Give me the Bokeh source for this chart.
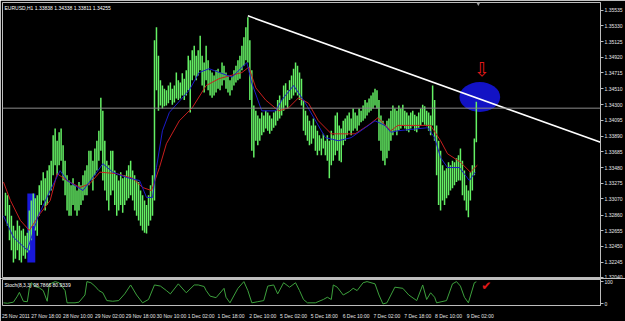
from bokeh.plotting import figure
from bokeh.layouts import column
from bokeh.models import Range1d, FixedTicker, Span, Label, PrintfTickFormatter
from bokeh.core.properties import value
from bokeh.embed import file_html
from bokeh.resources import INLINE

# ---------------- data (EURUSD H1) ----------------
highs = [
    1.3315, 1.3312, 1.3299, 1.3285, 1.3272, 1.3266, 1.3279, 1.3272, 1.3266, 1.3268,
    1.3259, 1.3263, 1.3292, 1.3305, 1.3314, 1.3308, 1.3312, 1.3325, 1.3331, 1.3342,
    1.3334, 1.3344, 1.3351, 1.3357, 1.3390, 1.3399, 1.3383, 1.3394, 1.3399, 1.3377,
    1.3357, 1.3338, 1.3331, 1.3325, 1.3334, 1.3325, 1.3318, 1.3329, 1.3325, 1.3338,
    1.3344, 1.3351, 1.3370, 1.3370, 1.3357, 1.3373, 1.3383, 1.3396, 1.3439, 1.3422,
    1.3383, 1.3357, 1.3351, 1.3370, 1.3370, 1.3344, 1.3338, 1.3331, 1.3342, 1.3334,
    1.3338, 1.3344, 1.3351, 1.3357, 1.3344, 1.3338, 1.3331, 1.3329, 1.3318, 1.3312,
    1.3305, 1.3299, 1.3312, 1.3325, 1.3338, 1.3514, 1.3531, 1.3494, 1.3462, 1.3455,
    1.3451, 1.3449, 1.3455, 1.3459, 1.3451, 1.3455, 1.3472, 1.3462, 1.3459, 1.3471,
    1.3464, 1.3475, 1.3494, 1.3488, 1.3501, 1.3507, 1.3494, 1.3501, 1.3520, 1.3494,
    1.3485, 1.3507, 1.3488, 1.3475, 1.3472, 1.3468, 1.3475, 1.3477, 1.3472, 1.3485,
    1.3481, 1.3472, 1.3468, 1.3462, 1.3467, 1.3475, 1.3481, 1.3488, 1.3494, 1.3507,
    1.3518, 1.3531, 1.3544, 1.3514, 1.3475, 1.3429, 1.3422, 1.3416, 1.3412, 1.3420,
    1.3416, 1.3422, 1.3420, 1.3416, 1.3412, 1.3420, 1.3422, 1.3436, 1.3442, 1.3436,
    1.3455, 1.3458, 1.3449, 1.3462, 1.3468, 1.3477, 1.3485, 1.3481, 1.3472, 1.3464,
    1.3436, 1.3422, 1.3416, 1.3409, 1.3403, 1.3412, 1.3403, 1.3396, 1.3390, 1.3386,
    1.3392, 1.3383, 1.3390, 1.3383, 1.3396, 1.3390, 1.3416, 1.3420, 1.3403, 1.3399,
    1.3409, 1.3412, 1.3416, 1.3420, 1.3412, 1.3425, 1.3420, 1.3416, 1.3425, 1.3422,
    1.3429, 1.3436, 1.3433, 1.3438, 1.3442, 1.3446, 1.3451, 1.3449, 1.3436, 1.3416,
    1.3409, 1.3403, 1.3409, 1.3412, 1.3422, 1.3429, 1.3425, 1.3422, 1.3429, 1.3425,
    1.3430, 1.3422, 1.3420, 1.3416, 1.3420, 1.3422, 1.3417, 1.3415, 1.3420, 1.3425,
    1.3430, 1.3428, 1.3422, 1.3420, 1.3416, 1.3455, 1.3436, 1.3403, 1.3383, 1.3370,
    1.3351, 1.3344, 1.3347, 1.3355, 1.3351, 1.3357, 1.3355, 1.3360, 1.3364, 1.3373,
    1.3357, 1.3344, 1.3325, 1.3318, 1.3342, 1.3351, 1.3386, 1.34338,
]
lows = [
    1.3285, 1.3272, 1.3253, 1.3240, 1.3224, 1.3229, 1.3240, 1.3227, 1.3224, 1.3233,
    1.3229, 1.3237, 1.3240, 1.3253, 1.3272, 1.3266, 1.3259, 1.3285, 1.3299, 1.3305,
    1.3292, 1.3299, 1.3312, 1.3318, 1.3338, 1.3351, 1.3338, 1.3351, 1.3357, 1.3331,
    1.3312, 1.3292, 1.3285, 1.3285, 1.3299, 1.3292, 1.3285, 1.3292, 1.3299, 1.3305,
    1.3312, 1.3312, 1.3325, 1.3331, 1.3318, 1.3338, 1.3344, 1.3357, 1.3370, 1.3331,
    1.3318, 1.3305, 1.3292, 1.3312, 1.3318, 1.3299, 1.3285, 1.3292, 1.3299, 1.3289,
    1.3299, 1.3305, 1.3308, 1.3312, 1.3305, 1.3292, 1.3285, 1.3279, 1.3272, 1.3266,
    1.3263, 1.3262, 1.3272, 1.3279, 1.3285, 1.3305, 1.3449, 1.3422, 1.3429, 1.3425,
    1.3428, 1.3429, 1.3432, 1.3436, 1.3430, 1.3433, 1.3438, 1.3436, 1.3438, 1.3442,
    1.3436, 1.3442, 1.3449, 1.3420, 1.3462, 1.3468, 1.3462, 1.3468, 1.3475, 1.3455,
    1.3446, 1.3462, 1.3449, 1.3442, 1.3439, 1.3442, 1.3446, 1.3451, 1.3449, 1.3455,
    1.3462, 1.3451, 1.3446, 1.3442, 1.3449, 1.3455, 1.3459, 1.3462, 1.3464, 1.3475,
    1.3481, 1.3488, 1.3485, 1.3436, 1.3370, 1.3361, 1.3383, 1.3377, 1.3383, 1.3390,
    1.3394, 1.3399, 1.3396, 1.3392, 1.3396, 1.3400, 1.3403, 1.3409, 1.3412, 1.3416,
    1.3422, 1.3429, 1.3425, 1.3436, 1.3438, 1.3442, 1.3446, 1.3442, 1.3436, 1.3429,
    1.3396, 1.3390, 1.3383, 1.3377, 1.3379, 1.3386, 1.3370, 1.3364, 1.3370, 1.3364,
    1.3373, 1.3364, 1.3357, 1.3334, 1.3351, 1.3357, 1.3364, 1.3370, 1.3357, 1.3355,
    1.3377, 1.3383, 1.3390, 1.3396, 1.3390, 1.3396, 1.3399, 1.3396, 1.3403, 1.3407,
    1.3409, 1.3412, 1.3416, 1.3420, 1.3422, 1.3425, 1.3429, 1.3425, 1.3383, 1.3370,
    1.3357, 1.3351, 1.3360, 1.3370, 1.3383, 1.3390, 1.3396, 1.3390, 1.3396, 1.3399,
    1.3403, 1.3399, 1.3396, 1.3394, 1.3399, 1.3402, 1.3396, 1.3394, 1.3400, 1.3403,
    1.3407, 1.3404, 1.3402, 1.3396, 1.3390, 1.3403, 1.3383, 1.3338, 1.3299, 1.3292,
    1.3305, 1.3299, 1.3308, 1.3312, 1.3318, 1.3321, 1.3325, 1.3329, 1.3331, 1.3331,
    1.3312, 1.3305, 1.3292, 1.3283, 1.3305, 1.3318, 1.3338, 1.33811,
]
bar_index = list(range(len(highs)))

# last bar header values
symbol = "EURUSD,H1"
last_ohlc = [1.33838, 1.34338, 1.33811, 1.34255]
last_close = last_ohlc[3]

# moving averages (bar, price)
ma_red_bars = [-1, 2.5, 7.5, 12, 17.5, 22.5, 26, 31, 37.5, 42.5, 47.5, 56, 64, 69, 73.5, 77.5, 81,
               87.5, 94, 101, 107.5, 119, 122.5, 126, 131, 137.5, 142.5, 147.5, 152.5, 157.5, 164,
               176, 182.5, 187.5, 194, 197.5, 214, 219, 222.5, 229, 234, 237.5]
ma_red_vals = [1.3329, 1.3305, 1.3279, 1.3266, 1.3288, 1.3305, 1.3340, 1.3331, 1.3322, 1.3327,
               1.3342, 1.3340, 1.3334, 1.3322, 1.3318, 1.3348, 1.3379, 1.3409, 1.3426, 1.3455,
               1.3464, 1.3472, 1.3479, 1.3452, 1.3436, 1.3422, 1.3426, 1.3439, 1.3432, 1.3409,
               1.3392, 1.3392, 1.3403, 1.3413, 1.3396, 1.3403, 1.3403, 1.3383, 1.3366, 1.3355,
               1.3342, 1.3351]
ma_blue_bars = [-1, 4, 11, 16.5, 22.5, 27.5, 31, 39, 46, 49, 54, 61, 67.5, 71, 74, 76, 79, 82.5,
                92.5, 97.5, 102.5, 114, 121.5, 124, 129, 136, 139, 145, 151, 161, 167.5, 174, 186,
                191, 194, 197.5, 212.5, 216, 219, 222.5, 228.5, 233.5, 236.5]
ma_blue_vals = [1.3285, 1.3257, 1.3240, 1.3285, 1.3318, 1.3344, 1.3331, 1.3318, 1.3342, 1.3353,
                1.3342, 1.3335, 1.3331, 1.3309, 1.3309, 1.3348, 1.3396, 1.3420, 1.3449, 1.3472,
                1.3477, 1.3466, 1.3485, 1.3458, 1.3422, 1.3422, 1.3436, 1.3455, 1.3432, 1.3387,
                1.3383, 1.3387, 1.3409, 1.3403, 1.3394, 1.3396, 1.3400, 1.3387, 1.3361, 1.3348,
                1.3348, 1.3331, 1.3342]

# user drawn objects
trend_bars = [122, 299.5]
trend_prices = [1.3546, 1.3381]
box_bars = [11, 15]
box_prices = [1.3224, 1.3314]
ellipse_bar, ellipse_price = 238.75, 1.3440
ellipse_w_bars, ellipse_h_price = 20.5, 0.0039
arrow_bar, arrow_price = 239.75, 1.3476

# stochastic (8,3,3)
stoch_label = "Stoch(8,3,3) 98.7866 80.9339"
stoch_bars = [-1, 1, 4, 6, 7, 9, 11, 12, 13, 15, 17, 19, 21, 22, 25, 27, 30, 31, 35, 37, 40, 41,
              43, 45, 47, 49, 51, 54, 57, 60, 63, 66, 69, 72, 75, 78, 81, 83, 87, 91, 95, 97, 100,
              101, 103, 106, 110, 111, 113, 117, 120, 122, 124, 127, 130, 132, 135, 137, 140, 143,
              146, 148, 150, 152, 156, 160, 162, 164, 165, 167, 170, 173, 175, 177, 180, 182, 186,
              188, 190, 192, 196, 200, 203, 207, 210, 212, 214, 216, 217, 222, 225, 227, 229, 231,
              233, 236, 237]
stoch_vals = [5, 3, 8, 35, 52, 12, 10, 70, 95, 78, 72, 60, 12, 88, 100, 95, 60, 5, 5, 8, 40, 100,
              95, 80, 60, 50, 15, 12, 15, 45, 85, 40, 5, 20, 85, 80, 60, 45, 90, 50, 85, 85, 78,
              60, 35, 28, 70, 30, 5, 70, 100, 60, 5, 10, 15, 80, 85, 45, 95, 75, 95, 60, 20, 5, 5,
              20, 30, 20, 85, 75, 40, 55, 70, 60, 95, 100, 90, 40, 0, 5, 75, 70, 40, 15, 85, 20,
              50, 30, 5, 15, 90, 100, 80, 30, 5, 95, 99]
check_bar, check_val = 242, 81

# axes
price_ticks = [1.35535, 1.35330, 1.35125, 1.34920, 1.34715, 1.34510, 1.34300, 1.34095, 1.33890,
               1.33685, 1.33480, 1.33275, 1.33070, 1.32860, 1.32655, 1.32450, 1.32245, 1.32040]
time_labels = ["25 Nov 2011", "27 Nov 18:00", "28 Nov 10:00", "29 Nov 02:00", "29 Nov 18:00",
               "30 Nov 10:00", "1 Dec 02:00", "1 Dec 18:00", "2 Dec 10:00", "5 Dec 02:00",
               "5 Dec 18:00", "6 Dec 10:00", "7 Dec 02:00", "7 Dec 18:00", "8 Dec 10:00",
               "9 Dec 02:00"]
time_label_bars = [5.25, 20.5, 36.5, 52.5, 68.0, 83.5, 98.5, 113.5, 129.5, 145.0, 160.5, 176.5,
                   192.0, 207.5, 223.0, 239.0]

# ---------------- styling ----------------
FONT = "Liberation Sans"
TXT = "#e6e6e6"
FRAME = "#bcbcbc"

xr = Range1d(-1.5, 299.5)

p = figure(width=625, height=278, x_range=xr, y_range=Range1d(1.32032, 1.35634),
           output_backend="svg", toolbar_location=None, x_axis_location=None,
           y_axis_location="right", min_border_left=2, min_border_right=22,
           min_border_top=2, min_border_bottom=0,
           background_fill_color="black", border_fill_color="black",
           outline_line_color=FRAME, outline_line_width=1)
p.grid.visible = False

ya = p.yaxis[0]
ya.ticker = FixedTicker(ticks=price_ticks)
ya.formatter = PrintfTickFormatter(format="%.5f")
ya.axis_line_color = FRAME
ya.major_tick_line_color = FRAME
ya.major_tick_out = 3
ya.major_tick_in = 0
ya.minor_tick_line_color = None
ya.major_label_standoff = 1
ya.major_label_text_color = TXT
ya.major_label_text_font = FONT
ya.major_label_text_font_size = "5px"

# ellipse + box (drawn objects under bars)
p.ellipse(x=[ellipse_bar], y=[ellipse_price], width=ellipse_w_bars, height=ellipse_h_price,
          fill_color="#1212c4", line_color=None)
p.quad(left=[box_bars[0]], right=[box_bars[1]], bottom=[box_prices[0]], top=[box_prices[1]],
       fill_color="#1818d8", line_color=None)

# bars
p.segment(x0=bar_index, y0=lows, x1=bar_index, y1=highs, line_color="#64f064", line_width=1.5)

# moving averages
p.line(ma_red_bars, ma_red_vals, line_color="#c81e1e", line_width=1)
p.line(ma_blue_bars, ma_blue_vals, line_color="#1c1cc8", line_width=1)

# trend line
p.line(trend_bars, trend_prices, line_color="white", line_width=1.6)

# current price line
p.add_layout(Span(location=last_close, dimension="width", line_color="#8c8c8c", line_width=1))

# arrow
p.text(x=[arrow_bar], y=[arrow_price], text=["\u21e9"], text_color="#e01818",
       text_font=value("DejaVu Sans"), text_font_size="19px",
       text_align="center", text_baseline="middle")

# chart shift marker
p.scatter(x=[238], y=[1.35634], marker="inverted_triangle", size=6, fill_color="#a0a0a0",
          line_color=None)

# header
p.add_layout(Label(x=-1.5, y=1.35634, x_offset=2, y_offset=-2, text_baseline="top",
                   text=f"{symbol}  {last_ohlc[0]:.5f} {last_ohlc[1]:.5f} {last_ohlc[2]:.5f} {last_ohlc[3]:.5f}",
                   text_color="white", text_font=FONT, text_font_size="5px"))

# price box on axis
p.add_layout(Label(x=299.5, y=last_close, x_offset=1, text=f"{last_close:.5f}",
                   text_baseline="middle", text_align="left", text_color="black",
                   text_font=FONT, text_font_size="5px", background_fill_color="white",
                   padding=1))

# ---------------- stochastic panel ----------------
s = figure(width=625, height=43, x_range=xr, y_range=Range1d(-7, 109.5),
           output_backend="svg", toolbar_location=None, y_axis_location="right",
           min_border_left=2, min_border_right=22, min_border_top=1, min_border_bottom=9,
           background_fill_color="black", border_fill_color="black",
           outline_line_color=FRAME, outline_line_width=1)
s.grid.visible = False

sy = s.yaxis[0]
sy.ticker = FixedTicker(ticks=[0, 100])
sy.axis_line_color = FRAME
sy.major_tick_line_color = FRAME
sy.major_tick_out = 3
sy.major_tick_in = 0
sy.minor_tick_line_color = None
sy.major_label_standoff = 1
sy.major_label_text_color = TXT
sy.major_label_text_font = FONT
sy.major_label_text_font_size = "5px"

sx = s.xaxis[0]
sx.ticker = FixedTicker(ticks=time_label_bars)
sx.major_label_overrides = {b: t for b, t in zip(time_label_bars, time_labels)}
sx.axis_line_color = None
sx.major_tick_line_color = None
sx.minor_tick_line_color = None
sx.major_label_standoff = 1
sx.major_label_text_color = TXT
sx.major_label_text_font = FONT
sx.major_label_text_font_size = "5px"

s.line(stoch_bars, stoch_vals, line_color="#3da03d", line_width=1)
s.text(x=[check_bar], y=[check_val], text=["\u2714"], text_color="#e01818",
       text_font=value("DejaVu Sans"), text_font_size="12px",
       text_align="center", text_baseline="middle")
s.add_layout(Label(x=-1.5, y=109.5, x_offset=2, y_offset=-2, text_baseline="top",
                   text=stoch_label, text_color="white", text_font=FONT, text_font_size="5px"))

layout = column(p, s, spacing=0)
open("out.html", "w").write(file_html(layout, INLINE))
